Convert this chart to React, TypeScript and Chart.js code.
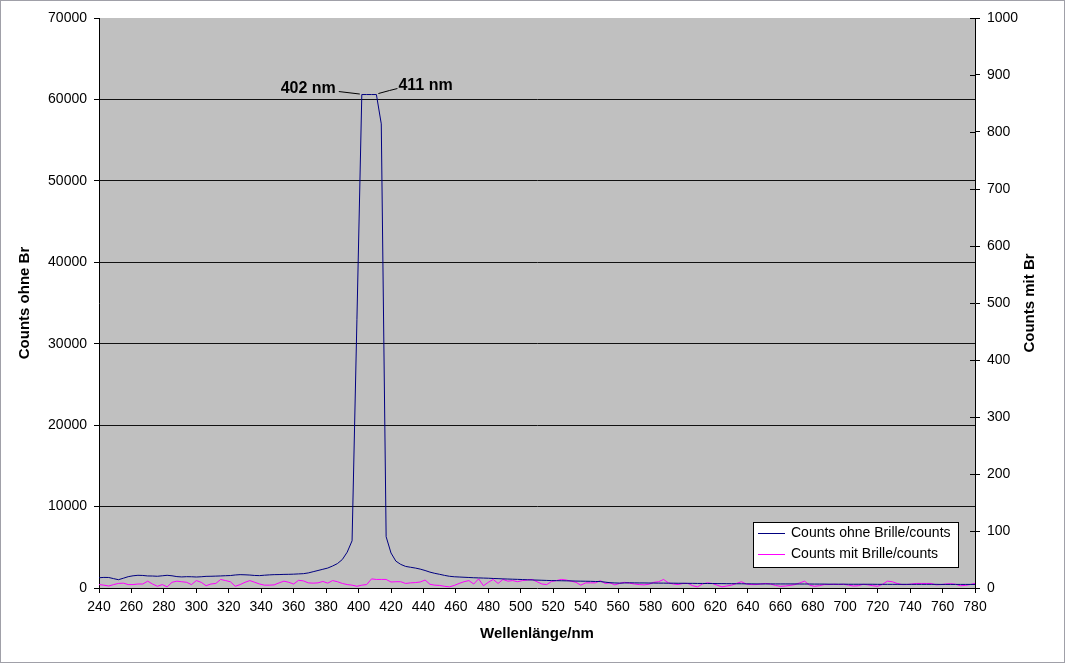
import React, { useEffect, useRef } from "react";
import { Chart, registerables } from "chart.js";
Chart.register(...registerables);

const FONT = "Arial, 'Liberation Sans', Helvetica, sans-serif";

const wavelengths = [
  240, 243, 246, 249, 252, 255, 258, 261, 264, 267,
  270, 273, 276, 279, 282, 285, 288, 291, 294, 297,
  300, 303, 306, 309, 312, 315, 318, 321, 324, 327,
  330, 333, 336, 339, 342, 345, 348, 351, 354, 357,
  360, 363, 366, 369, 372, 375, 378, 381, 384, 387,
  390, 393, 396, 399, 402, 405, 408, 411, 414, 417,
  420, 423, 426, 429, 432, 435, 438, 441, 444, 447,
  450, 453, 456, 459, 462, 465, 468, 471, 474, 477,
  480, 483, 486, 489, 492, 495, 498, 501, 504, 507,
  510, 513, 516, 519, 522, 525, 528, 531, 534, 537,
  540, 543, 546, 549, 552, 555, 558, 561, 564, 567,
  570, 573, 576, 579, 582, 585, 588, 591, 594, 597,
  600, 603, 606, 609, 612, 615, 618, 621, 624, 627,
  630, 633, 636, 639, 642, 645, 648, 651, 654, 657,
  660, 663, 666, 669, 672, 675, 678, 681, 684, 687,
  690, 693, 696, 699, 702, 705, 708, 711, 714, 717,
  720, 723, 726, 729, 732, 735, 738, 741, 744, 747,
  750, 753, 756, 759, 762, 765, 768, 771, 774, 777,
  780,
];

const countsOhne = [
  1260, 1300, 1290, 1150, 1020, 1200, 1390, 1500, 1560, 1540,
  1480, 1470, 1440, 1500, 1560, 1500, 1400, 1360, 1390, 1380,
  1350, 1380, 1430, 1440, 1460, 1480, 1510, 1530, 1600, 1640,
  1620, 1590, 1540, 1520, 1570, 1610, 1640, 1650, 1670, 1680,
  1700, 1730, 1760, 1850, 2000, 2150, 2300, 2450, 2700, 3000,
  3500, 4400, 5800, 33000, 60600, 60600, 60600, 60600, 57000, 6300,
  4300, 3300, 2900, 2650, 2550, 2450, 2320, 2150, 1950, 1800,
  1680, 1550, 1440, 1380, 1350, 1320, 1290, 1260, 1240, 1220,
  1200, 1170, 1150, 1120, 1100, 1080, 1060, 1040, 1010, 990,
  970, 950, 930, 910, 900, 890, 880, 870, 850, 840,
  830, 820, 800, 790, 720, 650, 620, 600, 620, 640,
  630, 620, 620, 610, 610, 600, 600, 590, 590, 580,
  580, 570, 570, 560, 560, 550, 550, 540, 540, 530,
  530, 520, 520, 510, 510, 500, 500, 500, 500, 500,
  500, 500, 500, 500, 490, 490, 490, 480, 480, 480,
  470, 470, 470, 470, 460, 460, 460, 460, 460, 460,
  450, 450, 450, 450, 450, 450, 450, 450, 450, 450,
  450, 450, 450, 440, 440, 440, 440, 440, 440, 440,
  440,
];

const countsMit = [
  6, 5, 3.5, 6, 8, 8.5, 6, 6, 7, 7,
  12, 7, 3, 6, 2, 10, 12, 11, 10, 6,
  13, 10, 4, 7, 8, 15, 13, 11, 3, 6,
  10, 13, 10, 7, 5, 5, 5.5, 9, 12, 10,
  7, 13.5, 12.5, 9, 8.5, 9, 11.5, 8.5, 13, 11,
  8, 6, 5, 3, 5, 6, 16, 15, 15, 15,
  10.5, 11, 11, 8, 9, 9.5, 10.5, 14, 6.5, 5,
  4.5, 3, 2, 4.5, 8, 11, 13, 7, 16, 4,
  10, 15, 8, 15, 12, 13, 11, 13, 14, 15,
  11, 7, 6, 11.5, 13, 15, 14, 12, 10, 5,
  9, 9, 9, 13, 8, 9, 5.5, 8, 10, 8.5,
  7, 6, 5.5, 6.5, 10, 11, 15, 9, 7, 6,
  8, 8, 4, 2, 7, 9, 8, 5, 2, 3.5,
  5, 8, 11, 7, 6, 6, 7, 8, 7, 4.5,
  3, 3.5, 4.5, 6, 9, 12, 5, 3, 4, 6,
  6, 6.5, 6, 6.5, 5, 3.5, 4, 6.5, 5.5, 4,
  3, 6.5, 12, 11, 8, 6, 6, 7, 8, 8,
  8, 8, 5.5, 6, 7, 7.5, 6.5, 4, 4.5, 6,
  8,
];

const seriesNames = ["Counts ohne Brille/counts", "Counts mit Brille/counts"];
const seriesColors = ["#000080", "#FF00FF"];
const peakLabels = [
  { wl: 402, value: 60600, text: "402 nm" },
  { wl: 411, value: 60600, text: "411 nm" },
];

const overlayPlugin = {
  id: "overlay",
  beforeDraw(chart: any) {
    const { ctx, chartArea: a } = chart;
    ctx.save();
    ctx.fillStyle = "#ffffff";
    ctx.fillRect(0, 0, chart.width, chart.height);
    ctx.fillStyle = "#c0c0c0";
    ctx.fillRect(a.left, a.top, a.right - a.left, a.bottom - a.top);
    ctx.restore();
  },
  afterDraw(chart: any) {
    const { ctx, chartArea: a, scales } = chart;
    ctx.save();
    // inner ticks of right axis
    ctx.strokeStyle = "#000";
    ctx.lineWidth = 1;
    const y1 = scales.y1;
    y1.ticks.forEach((t: any) => {
      const py = Math.round(y1.getPixelForValue(t.value)) + 0.5;
      ctx.beginPath();
      ctx.moveTo(a.right - 5, py);
      ctx.lineTo(a.right, py);
      ctx.stroke();
    });
    // right axis title
    ctx.fillStyle = "#000";
    ctx.font = `bold 15px ${FONT}`;
    ctx.textAlign = "center";
    ctx.textBaseline = "middle";
    ctx.save();
    ctx.translate(1030, (a.top + a.bottom) / 2);
    ctx.rotate(-Math.PI / 2);
    ctx.fillText("Counts mit Br", 0, 0);
    ctx.restore();
    // peak annotations
    const xs = scales.x, ys = scales.y;
    ctx.font = `bold 16px ${FONT}`;
    ctx.strokeStyle = "#000";
    peakLabels.forEach((p, i) => {
      const px = xs.getPixelForValue(p.wl);
      const py = ys.getPixelForValue(p.value);
      ctx.beginPath();
      if (i === 0) {
        ctx.moveTo(px - 2, py - 0.5);
        ctx.lineTo(px - 23, py - 3);
        ctx.stroke();
        ctx.textAlign = "right";
        ctx.fillText(p.text, px - 26, py - 6);
      } else {
        ctx.moveTo(px + 2, py - 1);
        ctx.lineTo(px + 13, py - 4);
        ctx.lineTo(px + 21, py - 6);
        ctx.stroke();
        ctx.textAlign = "left";
        ctx.fillText(p.text, px + 22, py - 9);
      }
    });
    // legend
    const lx = 753, ly = 522, lw = 205, lh = 45;
    ctx.fillStyle = "#fff";
    ctx.fillRect(lx, ly, lw, lh);
    ctx.strokeStyle = "#000";
    ctx.strokeRect(lx + 0.5, ly + 0.5, lw, lh);
    ctx.font = `14px ${FONT}`;
    ctx.textAlign = "left";
    ctx.textBaseline = "middle";
    seriesNames.forEach((n, i) => {
      const yy = ly + 11 + i * 21;
      ctx.strokeStyle = seriesColors[i];
      ctx.beginPath();
      ctx.moveTo(lx + 5, yy + 0.5);
      ctx.lineTo(lx + 32, yy + 0.5);
      ctx.stroke();
      ctx.fillStyle = "#000";
      ctx.fillText(n, lx + 38, yy);
    });
    // outer border
    ctx.strokeStyle = "#a0a0a8";
    ctx.strokeRect(0.5, 0.5, chart.width - 1, chart.height - 1);
    ctx.restore();
  },
};

export default function App() {
  const ref = useRef<HTMLCanvasElement>(null);
  useEffect(() => {
    const canvas = ref.current!;
    const chart = new Chart(canvas, {
      type: "line",
      data: {
        datasets: [
          {
            label: seriesNames[0],
            data: wavelengths.map((w, i) => ({ x: w, y: countsOhne[i] })),
            borderColor: seriesColors[0],
            borderWidth: 1,
            pointRadius: 0,
            tension: 0,
            yAxisID: "y",
          },
          {
            label: seriesNames[1],
            data: wavelengths.map((w, i) => ({ x: w, y: countsMit[i] })),
            borderColor: seriesColors[1],
            borderWidth: 1,
            pointRadius: 0,
            tension: 0,
            yAxisID: "y1",
          },
        ],
      },
      options: {
        animation: false,
        responsive: false,
        maintainAspectRatio: false,
        layout: { padding: { top: 18, left: 0, right: 0, bottom: 0 } },
        plugins: { legend: { display: false }, tooltip: { enabled: false } },
        scales: {
          x: {
            type: "linear",
            min: 240,
            max: 780,
            afterFit: (s: any) => { s.height = 75; },
            ticks: {
              stepSize: 20,
              color: "#000",
              font: { family: FONT, size: 14 },
              padding: 6,
              maxRotation: 0,
              autoSkip: false,
              callback: (v: any) => String(v),
            },
            grid: { drawOnChartArea: false, tickLength: 5, tickColor: "#000" },
            border: { color: "#000" },
            title: {
              display: true,
              text: "Wellenlänge/nm",
              color: "#000",
              font: { family: FONT, size: 15, weight: "bold" },
              padding: { top: 0, bottom: 20 },
            },
          },
          y: {
            position: "left",
            min: 0,
            max: 70000,
            afterFit: (s: any) => { s.width = 99; },
            ticks: {
              stepSize: 10000,
              color: "#000",
              font: { family: FONT, size: 14 },
              padding: 7,
              callback: (v: any) => String(v),
            },
            grid: {
              color: (c: any) =>
                c.tick && (c.tick.value === 0 || c.tick.value === 70000) ? "rgba(0,0,0,0)" : "#111",
              tickColor: "#000",
              tickLength: 5,
            },
            border: { color: "#000" },
            title: {
              display: true,
              text: "Counts ohne Br",
              color: "#000",
              font: { family: FONT, size: 15, weight: "bold" },
              padding: { top: 16, bottom: 0 },
            },
          },
          y1: {
            position: "right",
            min: 0,
            max: 1000,
            afterFit: (s: any) => { s.width = 90; },
            ticks: {
              stepSize: 100,
              color: "#000",
              font: { family: FONT, size: 14 },
              padding: 7,
              callback: (v: any) => String(v),
            },
            grid: { drawOnChartArea: false, tickLength: 5, tickColor: "#000" },
            border: { color: "#000" },
          },
        },
      } as any,
      plugins: [overlayPlugin],
    });
    return () => chart.destroy();
  }, []);
  return (
    <div style={{ position: "fixed", left: 0, top: 0, width: 1065, height: 663 }}>
      <canvas ref={ref} width={1065} height={663} style={{ width: 1065, height: 663, display: "block" }} />
    </div>
  );
}
